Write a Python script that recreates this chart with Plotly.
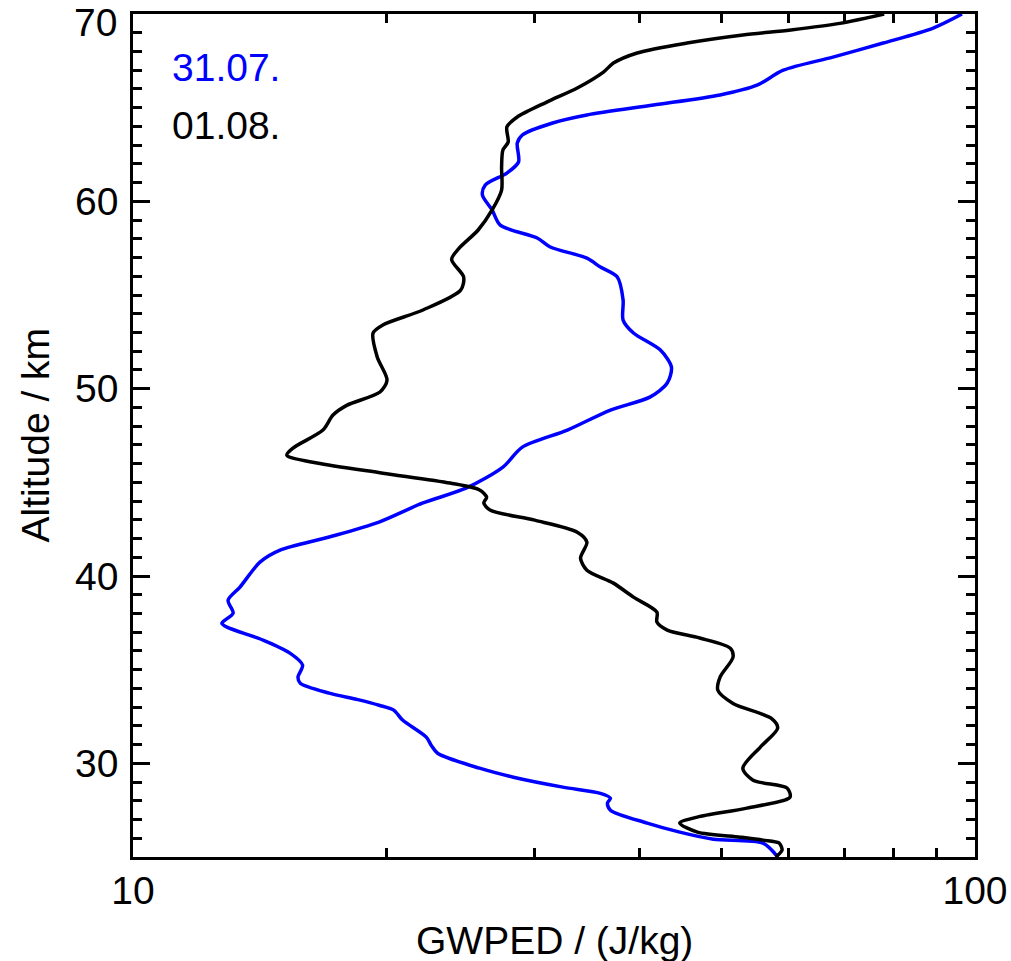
import plotly.graph_objects as go

# 31.07. (blue)
alt_0731 = [25.0, 25.74, 25.95, 26.33, 26.81, 27.5, 27.88, 28.14, 28.4, 28.73, 29.26, 29.74,
            30.54, 30.97, 31.4, 32.31, 32.84, 33.1, 33.4, 33.75, 34.28, 34.6, 35.24, 35.88,
            36.58, 37.27, 37.48, 38.02, 38.71, 39.41, 40.74, 41.38, 42.08, 42.88, 43.9, 44.7,
            45.81, 46.88, 47.79, 48.86, 49.55, 50.3, 51.15, 52.06, 52.97, 53.66, 54.73, 55.96,
            56.49, 56.97, 57.56, 58.04, 58.73, 59.54, 60.34, 60.87, 61.51, 62.1, 63.11, 63.54,
            64.18, 64.61, 65.14, 65.68, 66.2, 67.0, 67.7, 68.45, 69.25, 70.0]
gwped_0731 = [58.3, 56.0, 48.9, 44.6, 40.8, 36.9, 36.6, 36.9, 35.9, 32.4, 28.3, 25.8,
              23.0, 22.6, 22.3, 20.9, 20.4, 19.6, 18.5, 17.1, 15.8, 15.7, 15.9, 15.36,
              14.27, 12.93, 12.75, 13.15, 12.97, 13.4, 14.15, 14.95, 17.1, 19.6, 22.1, 24.9,
              27.5, 29.0, 32.8, 36.9, 41.1, 43.1, 43.6, 42.3, 39.3, 38.2, 38.2, 37.6,
              35.9, 34.6, 31.3, 30.2, 27.3, 26.7, 26.0, 26.2, 27.8, 28.7, 28.6, 29.0,
              31.5, 34.6, 41.5, 49.8, 55.1, 59.2, 67.8, 77.8, 89.2, 96.5]

# 01.08. (black)
alt_0108 = [25.0, 25.37, 25.75, 25.9, 26.06, 26.33, 26.81, 27.13, 27.61, 28.2, 28.68, 29.1,
            29.74, 30.87, 31.88, 32.4, 33.2, 33.9, 34.6, 35.67, 36.15, 36.69, 37.11, 37.54,
            38.07, 38.87, 39.62, 40.31, 40.95, 41.81, 42.34, 42.98, 43.52, 43.9, 44.21, 44.59,
            44.96, 45.49, 46.03, 46.45, 46.83, 47.79, 48.59, 49.12, 49.82, 50.46, 51.69, 52.97,
            53.4, 54.2, 55.26, 55.96, 56.9, 57.5, 58.47, 59.54, 60.6, 61.83, 62.74, 63.17,
            63.97, 64.5, 65.3, 66.05, 66.9, 67.38, 67.92, 68.45, 68.88, 69.15, 69.5, 70.0]
gwped_0108 = [58.0, 59.0, 58.5, 56.0, 52.6, 46.8, 44.6, 46.8, 53.6, 60.3, 59.8, 54.5,
              53.0, 55.6, 58.3, 57.3, 51.6, 49.5, 49.8, 51.6, 51.2, 47.1, 43.1, 41.9,
              41.9, 39.3, 37.2, 34.6, 34.0, 34.6, 33.7, 30.0, 26.55, 26.1, 26.3, 25.8,
              23.8, 19.8, 16.54, 15.23, 15.49, 16.81, 17.28, 17.96, 19.65, 20.03, 19.5, 19.28,
              19.8, 22.1, 24.5, 24.7, 23.9, 24.4, 25.7, 26.7, 27.4, 27.4, 27.5, 27.9,
              27.8, 28.6, 31.0, 33.7, 36.2, 37.2, 39.7, 45.5, 53.0, 60.4, 69.1, 78.0]

x_ticks = [10, 100]
x_minor = [20, 30, 40, 50, 60, 70, 80, 90]
y_ticks = [30, 40, 50, 60, 70]
legend_labels = ["31.07.", "01.08."]
colors = ["#0000FF", "#000000"]

FONT = "Liberation Sans, Arial, sans-serif"
FS = 39

fig = go.Figure()
fig.add_trace(go.Scatter(x=gwped_0731, y=alt_0731, mode="lines",
                         line=dict(color=colors[0], width=3.5, shape="spline", smoothing=0.8),
                         showlegend=False))
fig.add_trace(go.Scatter(x=gwped_0108, y=alt_0108, mode="lines",
                         line=dict(color=colors[1], width=3.5, shape="spline", smoothing=0.8),
                         showlegend=False))

fig.update_layout(
    width=1011, height=961,
    margin=dict(l=133, r=36, t=14, b=104, autoexpand=False),
    paper_bgcolor="white", plot_bgcolor="white",
    font=dict(family=FONT, size=FS, color="black"),
)
fig.update_xaxes(
    type="log", range=[1, 2], tickmode="array", tickvals=x_ticks, ticktext=["10", "100"],
    ticks="inside", ticklen=17, tickwidth=2.5, tickcolor="black",
    showline=True, linewidth=2.5, linecolor="black", mirror="allticks",
    showgrid=False, zeroline=False, automargin=False, ticklabelstandoff=-3,
    ticklabeloverflow="allow",
    minor=dict(tickmode="array", tickvals=x_minor, ticks="inside", ticklen=9,
               tickwidth=2.5, tickcolor="black", showgrid=False),
)
# top label (70) sits slightly below its tick in the reference, so it is drawn as an annotation
fig.update_yaxes(
    range=[25, 70], tickmode="array", tickvals=y_ticks,
    ticktext=[str(v) if v != 70 else "" for v in y_ticks],
    ticks="inside", ticklen=17, tickwidth=2.5, tickcolor="black",
    showline=True, linewidth=2.5, linecolor="black", mirror="allticks",
    showgrid=False, zeroline=False, automargin=False, ticklabelstandoff=4,
    ticklabeloverflow="allow",
    minor=dict(dtick=1, tick0=0, ticks="inside", ticklen=9,
               tickwidth=2.5, tickcolor="black", showgrid=False),
)
fig.add_annotation(xref="paper", yref="paper", x=-(133 - 119) / 842, y=1 - (23 - 14) / 843,
                   text=str(y_ticks[-1]), showarrow=False, xanchor="right", yanchor="middle",
                   font=dict(family=FONT, size=FS, color="black"))

for i, (lab, col) in enumerate(zip(legend_labels, colors)):
    fig.add_annotation(xref="paper", yref="paper", x=(170 - 133) / 842,
                       y=1 - (67 + 58 * i - 14) / 843, text=lab, showarrow=False,
                       xanchor="left", yanchor="middle",
                       font=dict(family=FONT, size=FS, color=col))

fig.add_annotation(xref="paper", yref="paper", x=0.5, y=-(940 - 857) / 843,
                   text="GWPED / (J/kg)", showarrow=False, xanchor="center", yanchor="middle",
                   font=dict(family=FONT, size=FS, color="black"))
fig.add_annotation(xref="paper", yref="paper", x=-(133 - 35) / 842, y=0.5,
                   text="Altitude / km", showarrow=False, textangle=-90,
                   xanchor="center", yanchor="middle",
                   font=dict(family=FONT, size=FS, color="black"))

fig.write_html("out.html", config={"displayModeBar": False},
               post_script="document.body.style.margin='0px';document.body.style.overflow='hidden';")
